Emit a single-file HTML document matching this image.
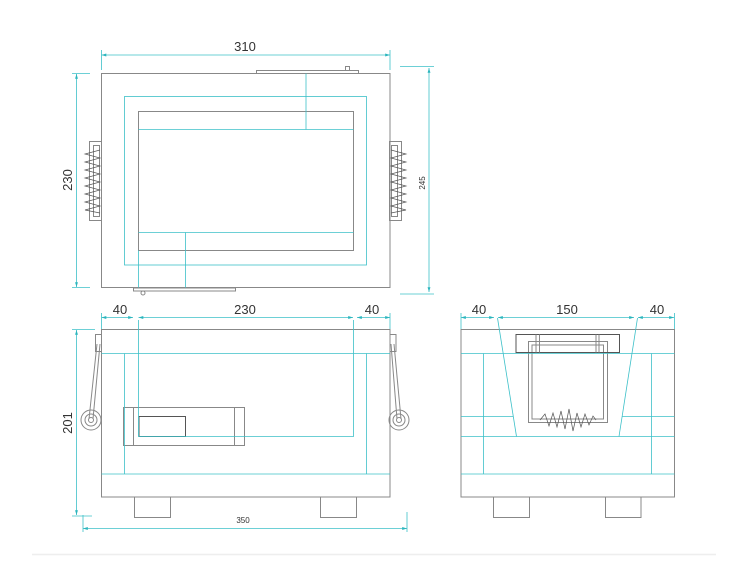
<!DOCTYPE html>
<html><head><meta charset="utf-8"><style>
html,body{margin:0;padding:0;background:#fff;width:750px;height:563px;overflow:hidden}
svg{display:block}
text{font-family:"Liberation Sans",sans-serif;fill:#333}
</style></head><body>
<svg width="750" height="563" viewBox="0 0 750 563" xmlns="http://www.w3.org/2000/svg">
<defs>
<marker id="a" viewBox="0 0 10 10" refX="10" refY="5" markerWidth="6" markerHeight="6" orient="auto-start-reverse"><path d="M0,2 L10,5 L0,8z" fill="#2bb5bd"/></marker>
</defs>
<g fill="none" stroke="#888" stroke-width="1">
<!-- TOP VIEW -->
<rect x="101.5" y="73.5" width="288.5" height="214"/>
<rect x="138.5" y="111.5" width="215" height="139" />
<rect x="256.5" y="70.5" width="102" height="3"/>
<rect x="345.5" y="66.5" width="4" height="4"/>
<rect x="133.5" y="288" width="102" height="3"/>
<circle cx="143" cy="293" r="2"/>
<rect x="89.5" y="141.5" width="12" height="79"/>
<rect x="93.5" y="145.5" width="6" height="71"/>
<rect x="389.5" y="141.5" width="12" height="79"/>
<rect x="391.5" y="145.5" width="6" height="71"/>
<polyline points="100,150 85,154 100,158 85,162 100,166 85,170 100,174 85,178 100,182 85,186 100,190 85,194 100,198 85,202 100,206 85,210 100,213" stroke="#555" stroke-width="0.7"/>
<polyline points="391,150 406,154 391,158 406,162 391,166 406,170 391,174 406,178 391,182 406,186 391,190 406,194 391,198 406,202 391,206 406,210 391,213" stroke="#555" stroke-width="0.7"/>
<!-- FRONT VIEW -->
<rect x="101.5" y="329.5" width="288.5" height="167.5"/>
<rect x="123.5" y="407.5" width="121" height="38"/>
<line x1="133.5" y1="407.5" x2="133.5" y2="445.5"/>
<line x1="234.5" y1="407.5" x2="234.5" y2="445.5"/>
<rect x="139" y="416.5" width="46.5" height="20" stroke="#555"/>
<rect x="134.5" y="497" width="36" height="20.5"/>
<rect x="320.5" y="497" width="36" height="20.5"/>
<rect x="95.5" y="334.5" width="6" height="17"/>
<rect x="390" y="334.5" width="6" height="17"/>
<line x1="97" y1="344" x2="89" y2="419"/><line x1="100" y1="344" x2="93" y2="419"/>
<line x1="394" y1="344" x2="401" y2="419"/><line x1="391" y1="344" x2="397" y2="419"/>
<circle cx="91" cy="420" r="10"/><circle cx="91" cy="420" r="6"/><circle cx="91" cy="420" r="2.5"/>
<circle cx="399" cy="420" r="10"/><circle cx="399" cy="420" r="6"/><circle cx="399" cy="420" r="2.5"/>
<!-- SIDE VIEW -->
<rect x="461" y="329.5" width="213.5" height="167.5"/>
<rect x="528.5" y="341.5" width="79" height="81"/>
<rect x="532" y="345" width="71.5" height="74"/>
<rect x="516" y="334.5" width="103.5" height="18" stroke="#555"/>
<line x1="536" y1="334.5" x2="536" y2="352.5"/><line x1="539.5" y1="334.5" x2="539.5" y2="352.5"/>
<line x1="596" y1="334.5" x2="596" y2="352.5"/><line x1="599" y1="334.5" x2="599" y2="352.5"/>
<polyline points="540,420 545,414 549,426 553,413 557,427 561,411 565,429 569,409 573,431 577,413 581,427 585,414 589,425 593,416 596,420" stroke="#555" stroke-width="0.7"/>
<rect x="493.5" y="497" width="36" height="20.5"/>
<rect x="605.5" y="497" width="35.5" height="20.5"/>
</g>
<g stroke="#3cc0c8" stroke-width="0.8" fill="none">
<rect x="124.5" y="96.5" width="242" height="168.5"/>
<line x1="138.5" y1="129.5" x2="353.5" y2="129.5"/>
<line x1="306" y1="73.5" x2="306" y2="129.5"/>
<line x1="138.5" y1="232.5" x2="353.5" y2="232.5"/>
<line x1="185.5" y1="232.5" x2="185.5" y2="287.5"/>
<line x1="138.5" y1="250.5" x2="138.5" y2="287.5"/>
<!-- front -->
<line x1="101.5" y1="353.5" x2="390" y2="353.5"/>
<line x1="101.5" y1="474" x2="390" y2="474"/>
<line x1="124.5" y1="353.5" x2="124.5" y2="474"/>
<line x1="366.5" y1="353.5" x2="366.5" y2="474"/>
<polyline points="138.5,320 138.5,436.5 353.5,436.5 353.5,320"/>
<!-- side -->
<line x1="461" y1="353.5" x2="674.5" y2="353.5"/>
<line x1="461" y1="416.5" x2="513" y2="416.5"/>
<line x1="622" y1="416.5" x2="674.5" y2="416.5"/>
<line x1="461" y1="436.5" x2="674.5" y2="436.5"/>
<line x1="461" y1="474" x2="674.5" y2="474"/>
<line x1="483.5" y1="353.5" x2="483.5" y2="474"/>
<line x1="651.5" y1="353.5" x2="651.5" y2="474"/>
<line x1="497.5" y1="318" x2="516.5" y2="436.5"/>
<line x1="637.5" y1="318" x2="619" y2="436.5"/>
<!-- dims -->
<g marker-start="url(#a)" marker-end="url(#a)">
<line x1="101.5" y1="55" x2="390" y2="55"/>
<line x1="76.5" y1="74" x2="76.5" y2="287"/>
<line x1="429" y1="68" x2="429" y2="292"/>
<line x1="101.5" y1="317.5" x2="133" y2="317.5"/>
<line x1="138.5" y1="317.5" x2="353" y2="317.5"/>
<line x1="357" y1="317.5" x2="390" y2="317.5"/>
<line x1="76.5" y1="330" x2="76.5" y2="515"/>
<line x1="83" y1="528.5" x2="407" y2="528.5"/>
<line x1="461" y1="317.5" x2="494" y2="317.5"/>
<line x1="498" y1="317.5" x2="634" y2="317.5"/>
<line x1="638" y1="317.5" x2="674" y2="317.5"/>
</g>
<line x1="101.5" y1="50" x2="101.5" y2="70"/><line x1="390" y1="50" x2="390" y2="70"/>
<line x1="72" y1="73.5" x2="90" y2="73.5"/><line x1="72" y1="287.5" x2="90" y2="287.5"/>
<line x1="400" y1="66.5" x2="434" y2="66.5"/><line x1="400" y1="294" x2="434" y2="294"/>
<line x1="101.5" y1="313" x2="101.5" y2="329"/><line x1="390" y1="313" x2="390" y2="329"/>
<line x1="72" y1="329.5" x2="95" y2="329.5"/><line x1="72" y1="516" x2="92" y2="516"/>
<line x1="83" y1="515" x2="83" y2="532"/><line x1="407" y1="512" x2="407" y2="532"/>
<line x1="461" y1="313" x2="461" y2="329"/><line x1="674.5" y1="313" x2="674.5" y2="329"/>
</g>
<g font-size="13">
<text x="245" y="51" text-anchor="middle">310</text>
<text x="120" y="314" text-anchor="middle">40</text>
<text x="245" y="314" text-anchor="middle">230</text>
<text x="372" y="314" text-anchor="middle">40</text>
<text x="479" y="314" text-anchor="middle">40</text>
<text x="567" y="314" text-anchor="middle">150</text>
<text x="657" y="314" text-anchor="middle">40</text>
<text transform="translate(72,180) rotate(-90)" text-anchor="middle">230</text>
<text transform="translate(72,423) rotate(-90)" text-anchor="middle">201</text>
</g>
<text x="243" y="523" font-size="8" text-anchor="middle">350</text>
<text transform="translate(425,183) rotate(-90)" font-size="8" text-anchor="middle">245</text>
<line x1="32" y1="554.5" x2="716" y2="554.5" stroke="#eee" stroke-width="1.5"/>
</svg>
</body></html>
